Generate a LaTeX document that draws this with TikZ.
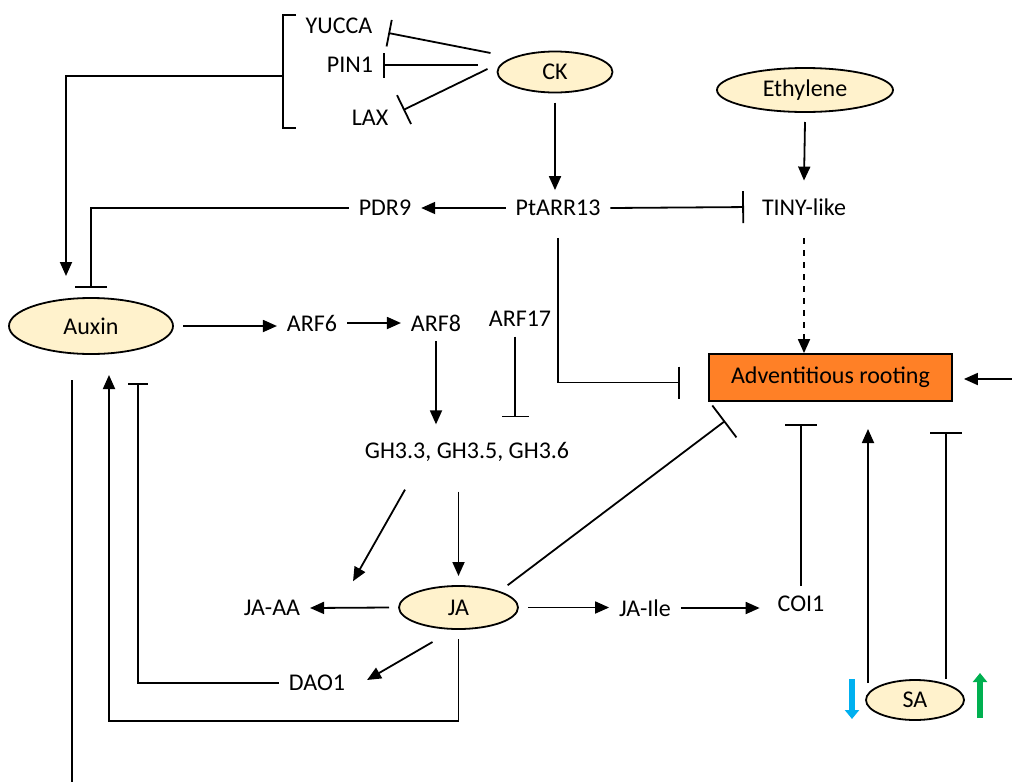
\documentclass[tikz,border=0pt]{standalone}
\usepackage{fontspec}
\setmainfont{Carlito}
\usetikzlibrary{arrows.meta,shapes.geometric,calc}
\definecolor{cream}{RGB}{255,242,204}
\definecolor{rootorange}{RGB}{255,128,38}
\definecolor{downblue}{RGB}{0,176,240}
\definecolor{upgreen}{RGB}{0,176,80}
\tikzset{
  gene/.style={inner sep=0pt, outer sep=5pt},
  horm/.style={ellipse, draw, fill=cream, inner sep=0pt, outer sep=5pt},
  act/.style={-{Triangle[length=7pt,width=6pt]}},
  inh/.style={-{Bar[width=#1]}}, inh/.default=16pt,
}
\begin{document}
\begin{tikzpicture}[x=0.5pt,y=-0.5pt,line width=0.9pt,font=\fontsize{12}{14}\selectfont]
\useasboundingbox (0,0) rectangle (1012,782);

% hormones and genes
\node[gene] (yucca) at (339,26) {YUCCA};
\node[gene] (pin) at (350,65) {PIN1};
\node[gene] (lax) at (370,118) {LAX};
\node[horm,minimum width=57.5pt,minimum height=20.5pt] (ck) at (555,72) {CK};
\node[horm,minimum width=88pt,minimum height=22pt] (eth) at (805,90) {Ethylene};
\node[gene] (pdr) at (385,208) {PDR9};
\node[gene] (ptarr) at (558,208) {PtARR13};
\node[gene] (tiny) at (804,207) {TINY-like};
\node[horm,minimum width=82pt,minimum height=28pt] (auxin) at (91,326) {Auxin};
\node[gene] (arf6) at (312,323) {ARF6};
\node[gene] (arf8) at (436,323) {ARF8};
\node[gene] (arf17) at (520,319) {ARF17};
\node[draw,fill=rootorange,minimum width=121.5pt,minimum height=23.5pt,inner sep=0pt] (root) at (830.5,377.5) {Adventitious rooting};
\node[gene] (gh) at (467,452) {GH3.3, GH3.5, GH3.6};
\node[horm,minimum width=59.5pt,minimum height=21.5pt] (ja) at (458.5,607.5) {JA};
\node[gene] (jaaa) at (272,608) {JA-AA};
\node[gene] (jaile) at (645,608) {JA-Ile};
\node[gene] (coi) at (801,604) {COI1};
\node[gene] (dao) at (317,683) {DAO1};
\node[horm,minimum width=49pt,minimum height=20pt] (sa) at (915,700) {SA};

% CK on auxin transport
\draw (296,15) -- (283,15) -- (283,128) -- (296,128); %bracket
\coordinate (brk) at (283,76);
\draw[act] (brk) -| (66,276);
\draw[inh=13.5pt] ($(ck.west)+(3,-19)$) -- ($(yucca.east)+(6,7)$);
\draw[inh=12.5pt] ($(ck.west)+(-10,-7)$) -- (pin.east);
\draw[inh] ($(ck.west)+(0,-3)$) -- ($(lax.east)+(5,-8)$);

% cytokinin branch
\draw[act] (ck.south) -- (ck.south |- ptarr.north);
\draw[act] (eth.south) -- ($(tiny.north)+(0,-8)$);
\draw[inh, shorten >=4pt] (ptarr.east) -- (tiny.west);
\draw[act] (ptarr.west) -- (pdr.east);
\draw[inh] (pdr.west) -| (auxin.north);
\draw[inh, shorten <=6pt, shorten >=14pt] (ptarr.south) |- ([yshift=-2.5pt]root.west);
\draw[act, dashed, shorten <=6.5pt] (tiny.south) -- (tiny.south |- root.north);
\coordinate (redge) at (1012,379);
\draw[act, shorten >=5.5pt] (redge) -- (redge -| root.east);

% auxin signalling
\draw[act] (auxin.east) -- (auxin.east -| arf6.west);
\draw[act] (arf6.east) -- (arf6.east -| arf8.west);
\draw[act, shorten >=4pt] (arf8.south) -- (arf8.south |- gh.north);
\draw[inh=13.5pt, shorten >=7.5pt] ($(arf17.south)+(-5,0)$) -- ($(arf17.south |- gh.north)+(-5,0)$);
\draw[act, shorten <=10pt] (gh.south -| ja.north) -- (ja.north);
\draw[act] ($(gh.south)+(-62,18)$) -- ($(jaaa.north east)+(43,-9)$);

% jasmonate
\draw[inh=20pt] (ja.north east) -- ($(root.south west)+(17,19)$);
\draw[act] (ja.west) -- (jaaa.east);
\draw[act] (ja.east) -- (ja.east -| jaile.west);
\draw[act, shorten >=4pt] (jaile.east) -- (jaile.east -| coi.west);
\draw[inh] (coi.north) -- ($(coi.north |- root.south)+(0,22)$);
\draw[act] ($(ja.south)+(-26,3)$) -- ($(dao.east)+(12,-3)$);
\draw[inh=10pt] (dao.west) -| ($(auxin.south)+(47,19)$);
\coordinate (jaloop) at (109,721);
\draw[act] (ja.south) |- (jaloop) -- ($(jaloop |- auxin.south)+(0,11)$);
\draw ($(auxin.south)+(-19,16)$) -- +(0,402);

% salicylic acid
\draw[act] ($(sa.center)+(-47,-17)$) -- ($(sa.center)+(-47,-271)$);
\draw[inh] ($(sa.center)+(31,-21)$) -- ($(sa.center)+(31,-268)$);
\draw[downblue, line width=3pt, -{Triangle[length=4.5pt,width=7pt]}] ($(sa.center)+(-63,-21)$) -- +(0,40);
\draw[upgreen, line width=3pt, -{Triangle[length=4.5pt,width=7pt]}] ($(sa.center)+(65,18)$) -- +(0,-45);
\end{tikzpicture}
\end{document}
